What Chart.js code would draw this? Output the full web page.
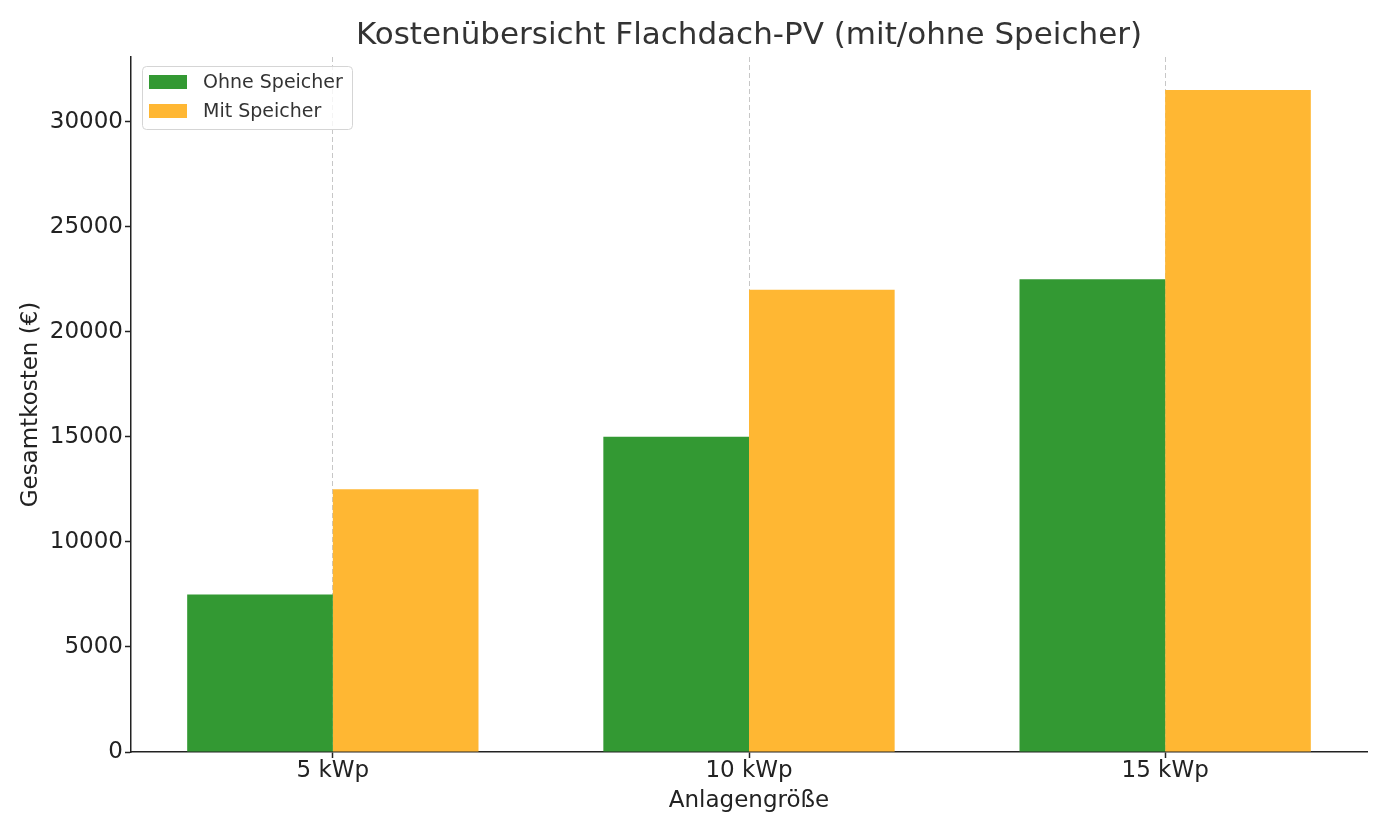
<!DOCTYPE html>
<html>
<head>
<meta charset="utf-8">
<script src="https://cdn.jsdelivr.net/npm/chart.js@4"></script>
<style>
  html, body { margin: 0; padding: 0; background: #fff; }
  #wrap { width: 1388px; height: 833px; }
</style>
</head>
<body>
<div id="wrap"><canvas id="chart" width="1388" height="833"></canvas></div>
<script>
// Data
const categories = ['5 kWp', '10 kWp', '15 kWp'];
const ohneSpeicher = [7500, 15000, 22500];
const mitSpeicher = [12500, 22000, 31500];
const yTicks = [0, 5000, 10000, 15000, 20000, 25000, 30000];
const seriesNames = ['Ohne Speicher', 'Mit Speicher'];
const chartTitle = 'Kostenübersicht Flachdach-PV (mit/ohne Speicher)';

const FONT = "'DejaVu Sans', sans-serif";
const GREEN = '#339933';
const ORANGE = '#ffb733';

// title centred over the plot area, and legend box inside the plot (top-left)
const titleAndLegend = {
  id: 'titleAndLegend',
  afterDraw(chart) {
    const ctx = chart.ctx;
    const area = chart.chartArea;
    ctx.save();
    ctx.font = '31px ' + FONT;
    ctx.fillStyle = '#333';
    ctx.textAlign = 'center';
    ctx.textBaseline = 'middle';
    ctx.fillText(chartTitle, (area.left + area.right) / 2, 35.5);

    const x = 142, y = 66, w = 210, h = 63;
    ctx.beginPath();
    ctx.roundRect(x + 0.5, y + 0.5, w, h, 4);
    ctx.fillStyle = 'rgba(255,255,255,0.8)';
    ctx.fill();
    ctx.strokeStyle = '#d5d5d5';
    ctx.lineWidth = 1;
    ctx.stroke();
    const colors = [GREEN, ORANGE];
    ctx.font = '19px ' + FONT;
    ctx.textAlign = 'left';
    ctx.textBaseline = 'middle';
    seriesNames.forEach((name, i) => {
      const cy = 82 + i * 29;
      ctx.fillStyle = colors[i];
      ctx.fillRect(149, cy - 7, 38, 14);
      ctx.fillStyle = '#333';
      ctx.fillText(name, 203, cy + 1.5);
    });
    ctx.restore();
  }
};

new Chart(document.getElementById('chart'), {
  type: 'bar',
  data: {
    datasets: [
      {
        label: seriesNames[0],
        data: ohneSpeicher.map((v, i) => ({ x: i, y: v })),
        backgroundColor: GREEN,
        borderWidth: 0
      },
      {
        label: seriesNames[1],
        data: mitSpeicher.map((v, i) => ({ x: i, y: v })),
        backgroundColor: ORANGE,
        borderWidth: 0
      }
    ]
  },
  options: {
    responsive: false,
    animation: false,
    layout: { padding: { left: 0, right: 21, top: 57, bottom: 0 } },
    categoryPercentage: 0.7,
    barPercentage: 1.0,
    plugins: {
      legend: { display: false },
      tooltip: { enabled: false },
      title: { display: false }
    },
    scales: {
      x: {
        type: 'linear',
        min: -0.485,
        max: 2.485,
        offset: false,
        afterBuildTicks: s => { s.ticks = categories.map((c, i) => ({ value: i })); },
        afterFit: s => { s.height = 81; },
        ticks: {
          callback: v => categories[v],
          color: '#222',
          font: { family: FONT, size: 23 },
          padding: -1,
          maxRotation: 0
        },
        grid: {
          display: true,
          drawOnChartArea: true,
          offset: false,
          color: 'rgba(0,0,0,0.22)',
          lineWidth: 1,
          tickLength: 6,
          tickColor: '#222',
          tickWidth: 1.5
        },
        border: { display: true, color: '#222', width: 1.5, dash: [5, 3] },
        title: {
          display: true,
          text: 'Anlagengröße',
          color: '#222',
          font: { family: FONT, size: 23 },
          padding: { top: 0, bottom: 18 }
        }
      },
      y: {
        min: 0,
        max: 33075,
        afterBuildTicks: s => { s.ticks = yTicks.map(v => ({ value: v })); },
        afterFit: s => { s.width = 131; },
        ticks: {
          callback: v => String(v),
          color: '#222',
          font: { family: FONT, size: 23 },
          padding: 2
        },
        grid: {
          display: true,
          drawOnChartArea: false,
          tickLength: 6,
          tickColor: '#222',
          tickWidth: 1.5
        },
        border: { display: true, color: '#222', width: 1.5 },
        title: {
          display: true,
          text: 'Gesamtkosten (€)',
          color: '#222',
          font: { family: FONT, size: 23 },
          padding: { top: 17, bottom: 0 }
        }
      }
    }
  },
  plugins: [titleAndLegend]
});
</script>
</body>
</html>
